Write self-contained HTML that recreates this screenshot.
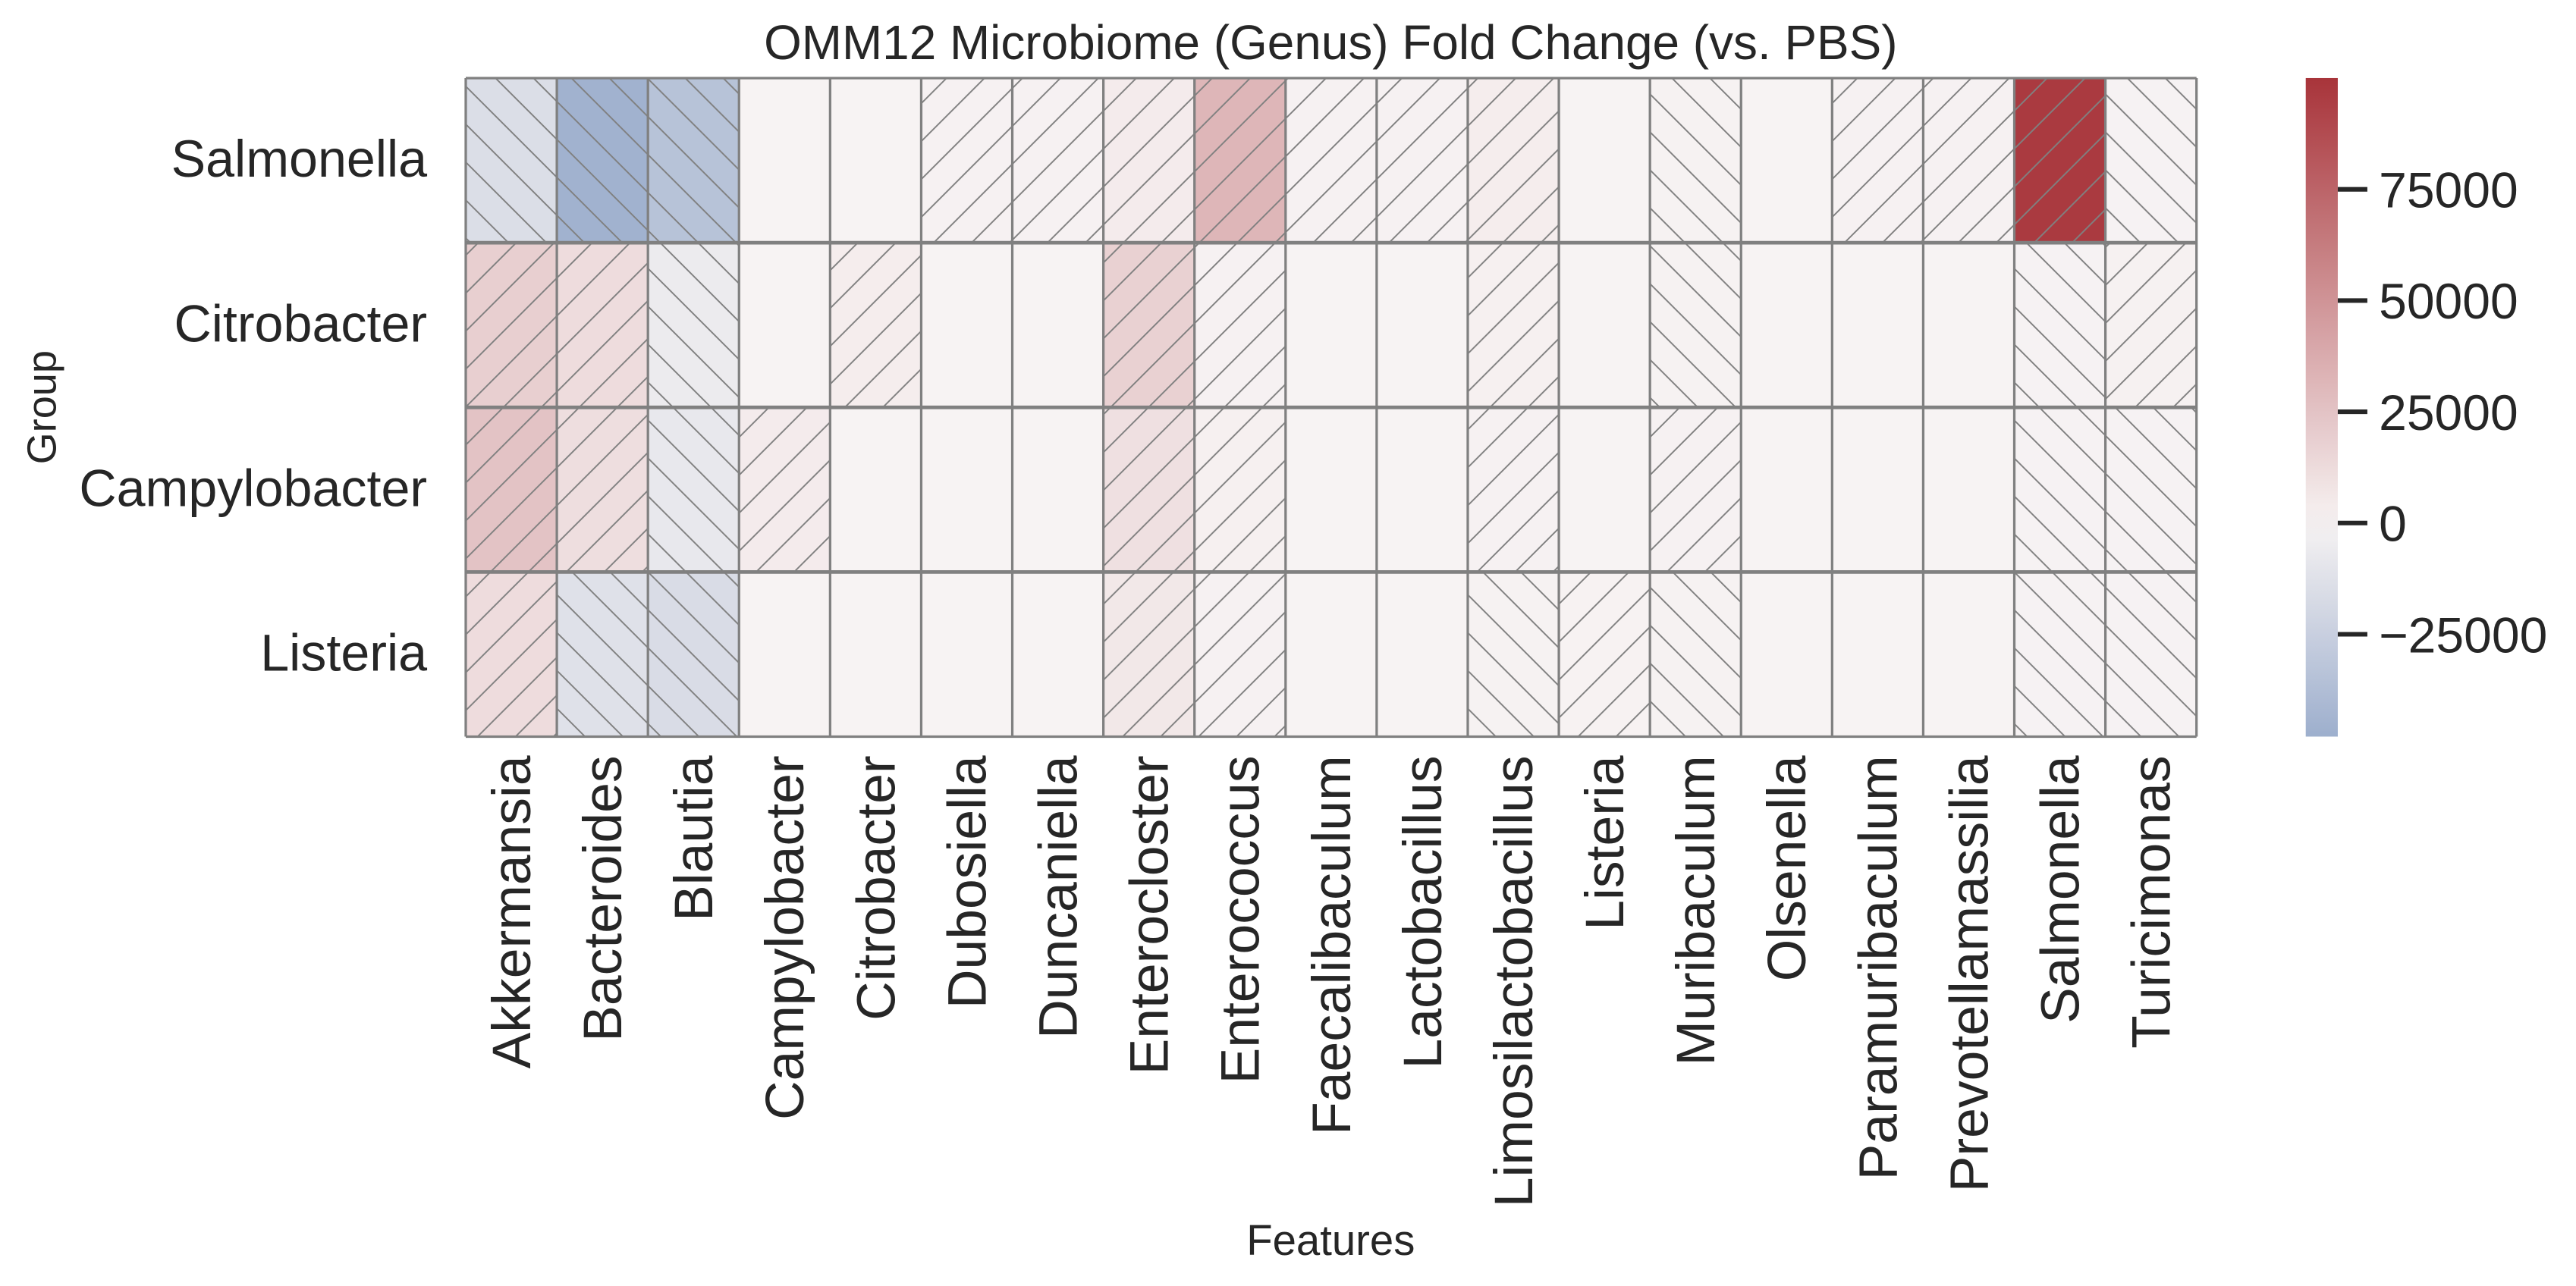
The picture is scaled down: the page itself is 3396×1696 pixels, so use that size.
<!DOCTYPE html>
<html><head><meta charset="utf-8"><style>html,body{margin:0;padding:0;background:#fff}svg{display:block}</style></head>
<body>
<svg id="chart" width="3396" height="1696" viewBox="0 0 1568 783" xmlns="http://www.w3.org/2000/svg" font-family="'Liberation Sans', Arial, sans-serif">
<defs>
<pattern id="hatchPos" patternUnits="userSpaceOnUse" width="23.1" height="46.2" patternTransform="skewX(-45)">
<line x1="0" y1="-5" x2="0" y2="52" stroke="#808080" stroke-width="1.25"/>
<line x1="23.1" y1="-5" x2="23.1" y2="52" stroke="#808080" stroke-width="1.25"/>
</pattern>
<pattern id="hatchNeg" patternUnits="userSpaceOnUse" width="23.1" height="46.2" patternTransform="skewX(45)">
<line x1="0" y1="-5" x2="0" y2="52" stroke="#808080" stroke-width="1.25"/>
<line x1="23.1" y1="-5" x2="23.1" y2="52" stroke="#808080" stroke-width="1.25"/>
</pattern>
<linearGradient id="cbarGrad" x1="0" y1="1" x2="0" y2="0"></linearGradient>
</defs>
<text x="810" y="36" text-anchor="middle" font-size="29.5" fill="#262626">OMM12 Microbiome (Genus) Fold Change (vs. PBS)</text>
<g id="cells"></g>
<g id="grid"></g>
<g id="ylabels"></g>
<g id="xlabels"></g>
<text transform="translate(34,248) rotate(-90)" text-anchor="middle" font-size="25" fill="#262626">Group</text>
<text x="810" y="764" text-anchor="middle" font-size="26" fill="#262626">Features</text>
<g id="cbar"></g>
</svg>
<script>
const features = ["Akkermansia","Bacteroides","Blautia","Campylobacter","Citrobacter","Dubosiella","Duncaniella","Enterocloster","Enterococcus","Faecalibaculum","Lactobacillus","Limosilactobacillus","Listeria","Muribaculum","Olsenella","Paramuribaculum","Prevotellamassilia","Salmonella","Turicimonas"];
const groups = ["Salmonella","Citrobacter","Campylobacter","Listeria"];
const rowSalmonella = [-15000,-46000,-34000,0,0,800,800,4000,32000,800,800,3000,0,-800,0,800,800,97000,-400];
const rowCitrobacter = [19000,12000,-6000,0,3000,0,0,18000,800,0,0,1500,0,-800,0,0,0,-400,1200];
const rowCampylobacter = [25000,11000,-8000,4000,0,0,0,10000,1500,0,0,800,0,800,0,0,0,-400,-400];
const rowListeria = [12000,-13000,-16000,0,0,0,0,6000,800,0,0,-800,400,-800,0,0,0,-400,-400];
const cbarTicks = [75000,50000,25000,0,-25000];
const cbarTickLabels = ["75000","50000","25000","0","\u221225000"];
const vmin = -48000, vmax = 100000;

const matrix = [rowSalmonella,rowCitrobacter,rowCampylobacter,rowListeria];
const NS = "http://www.w3.org/2000/svg";
const X0=283.5, X1=1337, Y0=47.5, Y1=448.5;
const cw=(X1-X0)/features.length, rh=(Y1-Y0)/groups.length;
const xScale = i => X0 + i*cw;
const yScale = j => Y0 + j*rh;
const cy = v => Y1 - (v - vmin)/(vmax - vmin)*(Y1-Y0);
const C0=[247,243,243], CR=[168,52,58], CB=[157,175,205];
function color(v){
  let t, end;
  if(v>=0){t=Math.min(v/vmax,1);end=CR;}else{t=Math.min(v/vmin,1);end=CB;}
  const c=C0.map((a,k)=>Math.round(a+(end[k]-a)*t));
  return `rgb(${c[0]},${c[1]},${c[2]})`;
}
function mk(tag, attrs, parent){const e=document.createElementNS(NS,tag);for(const k in attrs)e.setAttribute(k,attrs[k]);parent.appendChild(e);return e;}
const gC=document.getElementById('cells'), gG=document.getElementById('grid');
matrix.forEach((row,j)=>{
  row.forEach((v,i)=>{
    const r=mk('rect',{x:xScale(i),y:yScale(j),width:cw,height:rh,fill:color(v)},gC);
    
    
    if(v!==0){
      const h=mk('rect',{x:xScale(i),y:yScale(j),width:cw,height:rh,fill:v>0?'url(#hatchPos)':'url(#hatchNeg)'},gC);
      
      
    }
  });
});
for(let i=0;i<=features.length;i++){
  const l=mk('line',{x1:xScale(i),x2:xScale(i),y1:Y0,y2:Y1,stroke:'#808080','stroke-width':1.5},gG);
  
  
}
for(let j=0;j<=groups.length;j++){
  const l=mk('line',{x1:X0,x2:X1,y1:yScale(j),y2:yScale(j),stroke:'#808080','stroke-width':j===0||j===groups.length?1.5:2.2},gG);
  
  
}
const gY=document.getElementById('ylabels');
groups.forEach((g,j)=>{
  const t=mk('text',{x:260,y:yScale(j)+rh/2+10,'text-anchor':'end','font-size':31.5,fill:'#262626'},gY);
  t.textContent=g;
  
  
});
const gX=document.getElementById('xlabels');
features.forEach((f,i)=>{
  const x=xScale(i)+cw/2+11.5;
  const t=mk('text',{transform:`translate(${x},460) rotate(-90)`,'text-anchor':'end','font-size':33,fill:'#262626'},gX);
  t.textContent=f;
  
  
});
const grad=document.getElementById('cbarGrad');
for(let k=0;k<=20;k++){
  const v=vmin+(vmax-vmin)*k/20;
  mk('stop',{offset:(k/20),'stop-color':color(v)},grad);
}
const gB=document.getElementById('cbar');
const cb=mk('rect',{x:1403.5,y:Y0,width:19.5,height:Y1-Y0,fill:'url(#cbarGrad)'},gB);


cbarTicks.forEach((v,k)=>{
  const y=cy(v);
  const l=mk('line',{x1:1423,x2:1441,y1:y,y2:y,stroke:'#262626','stroke-width':2.8},gB);
  
  
  const t=mk('text',{x:1448,y:y+11,'font-size':30.5,fill:'#262626'},gB);
  t.textContent=cbarTickLabels[k];
  
  
});
</script>
</body></html>
